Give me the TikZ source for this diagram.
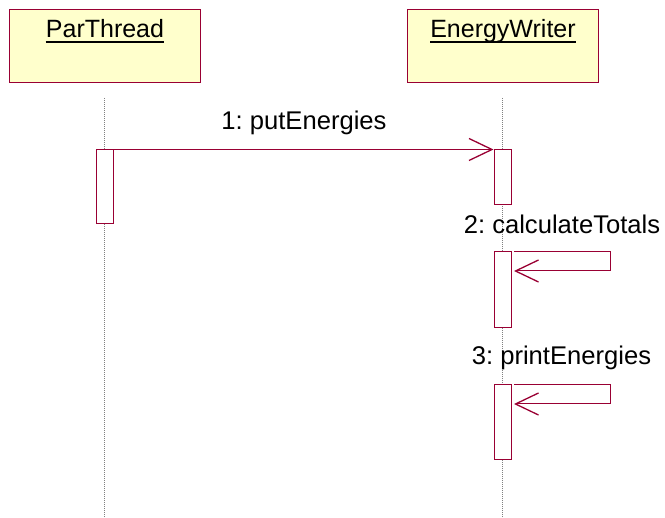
\documentclass[tikz,border=0pt]{standalone}
\usepackage{fontspec}
\setmainfont{Liberation Sans}
\frenchspacing
\usetikzlibrary{arrows.meta}
\definecolor{umlred}{RGB}{153,0,51}
\definecolor{umlfill}{RGB}{255,255,204}
\tikzset{
  header/.style={draw=umlred, fill=umlfill, line width=1pt, minimum width=191pt, minimum height=73pt, inner sep=0pt},
  hname/.style={anchor=base, inner sep=0pt, font=\fontsize{25}{30}\selectfont},
  uline/.style={draw=black, line width=2pt},
  lifeline/.style={draw=gray, line width=0.6pt, dash pattern=on 1pt off 1pt},
  activation/.style={draw=umlred, fill=white, line width=1pt, minimum width=17pt, inner sep=0pt},
  msg/.style={draw=umlred, line width=1pt, -{Straight Barb[length=23pt,width=22pt,line width=1.3pt]}},
  mlabel/.style={anchor=base, inner sep=0pt, font=\fontsize{25.6}{30}\selectfont},
}
\begin{document}
\begin{tikzpicture}[x=1pt,y=-1pt]
\useasboundingbox (0,0) rectangle (665,518);
% headers
\node[header] (pbox) at (104.5,46.5) {};
\node[header] (ebox) at (502.5,46.5) {};
\node[hname] (ptxt) at (105,38) {ParThread};
\node[hname] (etxt) at (503,38) {EnergyWriter};
\draw[uline] ([yshift=-4.5pt]ptxt.base west) -- ([yshift=-4.5pt]ptxt.base east);
\draw[uline] ([yshift=-4.5pt]etxt.base west) -- ([yshift=-4.5pt]etxt.base east);
% lifelines
\coordinate (pl0) at (104.5,98);
\coordinate (pl1) at (104.5,518);
\coordinate (el0) at (502.5,98);
\coordinate (el1) at (502.5,518);
\draw[lifeline] (pl0) -- (pl1);
\draw[lifeline] (el0) -- (el1);
% activations
\node[activation, minimum height=74pt] (a1) at (104.5,187) {};
\node[activation, minimum height=55pt] (a2) at (502.5,177.5) {};
\node[activation, minimum height=76pt] (a3) at (502.5,290) {};
\node[activation, minimum height=75pt] (a4) at (502.5,422.5) {};
% message 1
\draw[msg] (a1.north east) -- (a2.north west);
\node[mlabel] (m1) at (304,130) {1: putEnergies};
% message 2 (self)
\coordinate (s2a) at (514,252);
\coordinate (s2b) at (610,252);
\coordinate (s2c) at (610,271);
\coordinate (s2d) at (514,271);
\draw[msg] (s2a) -- (s2b) -- (s2c) -- (s2d);
\node[mlabel] (m2) at (562,234) {2: calculateTotals};
% message 3 (self)
\coordinate (s3a) at (514,385);
\coordinate (s3b) at (610,385);
\coordinate (s3c) at (610,404);
\coordinate (s3d) at (514,404);
\draw[msg] (s3a) -- (s3b) -- (s3c) -- (s3d);
\node[mlabel] (m3) at (561.5,365) {3: printEnergies};
\end{tikzpicture}
\end{document}
